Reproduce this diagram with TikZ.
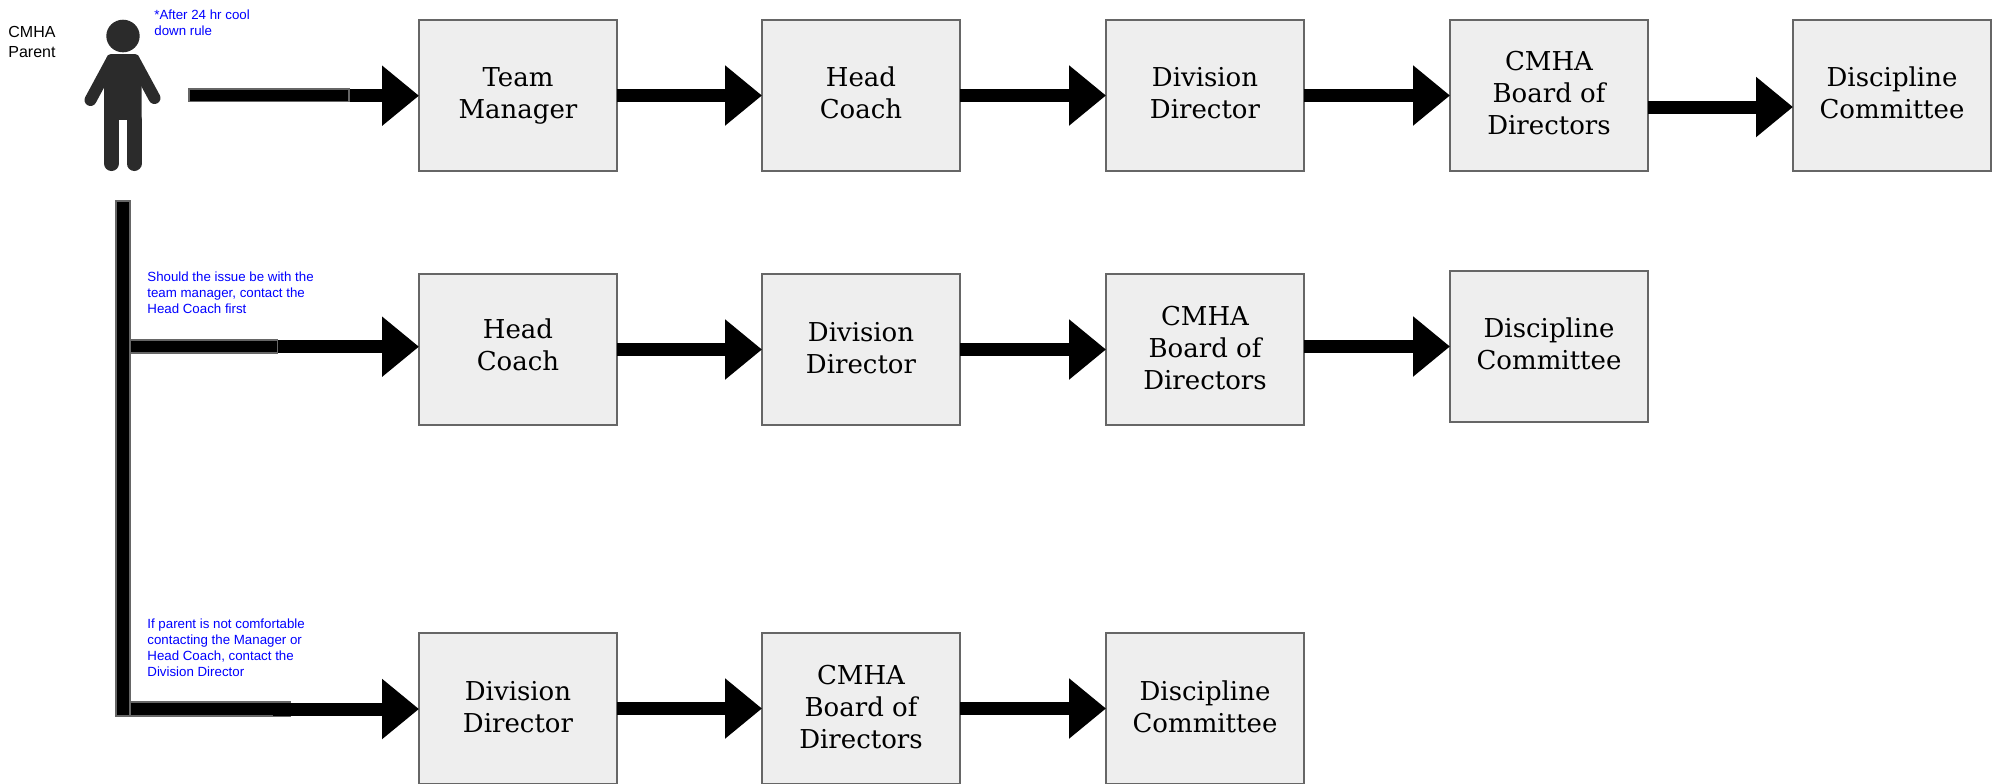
\documentclass[tikz,border=0pt]{standalone}
\usepackage{fontspec}
\usepackage{xcolor}
\setmainfont{Liberation Sans}
\newfontfamily\boxfont{DejaVu Serif}
\usetikzlibrary{arrows.meta}
\definecolor{boxfill}{HTML}{EEEEEE}
\definecolor{boxline}{HTML}{666666}
\definecolor{persondark}{HTML}{2B2B2B}
\tikzset{
    stepbox/.style={draw=boxline, fill=boxfill, line width=1pt, minimum width=99pt, minimum height=75.5pt,
        inner sep=0pt, outer sep=0pt},
    boxtext/.style={align=center, inner sep=0pt, yshift=-0.4pt, font=\boxfont\fontsize{13}{16}\selectfont},
    flow/.style={line width=6.5pt, -{Triangle[length=18.5pt,width=29pt]}},
    stub/.style={draw=boxline, fill=black, line width=0.9pt, inner sep=0pt, outer sep=0pt},
    note/.style={text=blue, align=left, anchor=west, inner sep=0pt, font=\fontsize{6.65}{8}\selectfont},
}

\begin{document}
\begin{tikzpicture}[x=0.5pt, y=-0.5pt]

    \useasboundingbox (0,0) rectangle (1998,783);

    % Parent figure
    \fill[persondark] (123,36) ellipse (16.7 and 16.3);
    \fill[persondark, rounded corners=2pt] (107,54) -- (139,54) -- (141.6,70) -- (141.6,124) -- (104,124) -- (104,70) -- cycle;
    \draw[persondark, line width=7.5pt, line cap=round] (111.5,120) -- (111.5,163.5);
    \draw[persondark, line width=7.5pt, line cap=round] (134,120) -- (134,163.5);
    \fill[white] (119,120) rectangle (126.5,140);
    \draw[persondark, line width=6pt, line cap=round] (111,62) -- (90.5,100);
    \draw[persondark, line width=6pt, line cap=round] (135,62) -- (154.5,98);

    \node[anchor=west, align=left, inner sep=0pt, font=\fontsize{8}{10}\selectfont] (parent) at (8,42) {CMHA\\Parent};

    % Boxes, one row at a time
    \foreach \name/\x/\y/\dy/\txt in {
        tmA/518/95.5/0/{Team\\Manager},
        hcA/861/95.5/0/{Head\\Coach},
        ddA/1205/95.5/0/{Division\\Director},
        cbA/1549/95.5/0/{CMHA\\Board of\\Directors},
        dcA/1892/95.5/0/{Discipline\\Committee},
        hcB/518/349.5/1.3/{Head\\Coach},
        ddB/861/349.5/-0.6/{Division\\Director},
        cbB/1205/349.5/-0.6/{CMHA\\Board of\\Directors},
        dcB/1549/346.5/0/{Discipline\\Committee},
        ddC/518/708.5/-0.6/{Division\\Director},
        cbC/861/708.5/-0.6/{CMHA\\Board of\\Directors},
        dcC/1205/708.5/-0.6/{Discipline\\Committee}} {
        \node[stepbox, label={[boxtext, yshift=\dy pt, name=\name text]center:{\strut\txt\strut}}] (\name) at (\x,\y) {};
    }

    % Free ends of the first arrows
    \coordinate (startA) at (273,95.7);
    \coordinate (startB) at (273,346.7);
    \coordinate (startC) at (273,709);

    % Branch bar and the lower stub
    \node[stub, minimum width=7.2pt, minimum height=257.5pt] (bar) at (122.8,458.5) {};
    \node[stub, minimum width=80pt, minimum height=6.8pt] (stubC) at (210,709) {};

    % Arrows
    \draw[flow] (startA) -- (tmA.west |- startA);
    \draw[flow] (startB) -- (hcB.west |- startB);
    \draw[flow] (startC) -- (ddC.west |- startC);

    \foreach \a/\b in {tmA/hcA, hcA/ddA, ddA/cbA, hcB/ddB, ddB/cbB, ddC/cbC, cbC/dcC} {
        \draw[flow] (\a) -- (\b);
    }
    \draw[flow] ([yshift=-5.75pt]cbA.east) -- ([yshift=-5.75pt]dcA.west);
    \draw[flow] (cbB.east |- dcB) -- (dcB);

    % Stubs on top of the arrows
    \node[stub, minimum width=80pt, minimum height=6.4pt] (stubA) at (269,95) {};
    \node[stub, minimum width=73.7pt, minimum height=6.5pt] (stubB) at (203.7,346.5) {};

    % Notes
    \node[note] (noteA) at (154,22.5) {*After 24 hr cool\\down rule};
    \node[note] (noteB) at (147,293) {Should the issue be with the\\team manager, contact the\\Head Coach first};
    \node[note] (noteC) at (147,648) {If parent is not comfortable\\contacting the Manager or\\Head Coach, contact the\\Division Director};

\end{tikzpicture}
\end{document}
